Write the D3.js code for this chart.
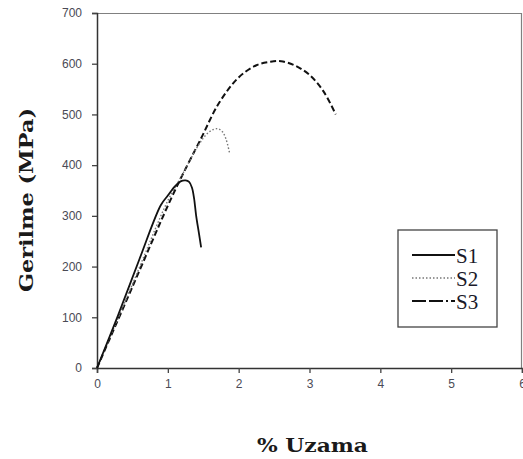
<!DOCTYPE html>
<html>
<head>
<meta charset="utf-8">
<script src="https://cdn.jsdelivr.net/npm/d3@7"></script>
<style>
  body { margin: 0; background: #fff; }
  svg { display: block; }
</style>
</head>
<body>
<div id="chart"></div>
<script>
// strain (%) / stress (MPa)
let s1_x = [0, 0.3, 0.6, 0.9, 1.0, 1.1, 1.18, 1.25, 1.3, 1.34, 1.37, 1.4, 1.44, 1.47];
let s1_y = [0, 105, 215, 321, 340, 358, 368, 370, 367, 356, 335, 300, 265, 238];
let s2_x = [0, 0.5, 1.0, 1.2, 1.4, 1.51, 1.6, 1.7, 1.77, 1.82, 1.87];
let s2_y = [0, 165, 330, 380, 432, 455, 467, 472, 466, 452, 425];
let s3_x = [0, 0.5, 1.0, 1.19, 1.47, 1.72, 2.0, 2.25, 2.45, 2.6, 2.8, 3.0, 3.2, 3.37];
let s3_y = [0, 160, 320, 376, 453, 522, 573, 597, 604, 605, 596, 578, 545, 500];
let series_names = ["S1", "S2", "S3"];
let x_ticks = [0, 1, 2, 3, 4, 5, 6];
let y_ticks = [0, 100, 200, 300, 400, 500, 600, 700];

let margin = {top: 13, right: 1, bottom: 91, left: 97};
let width = 523, height = 459;
let w = width - margin.left - margin.right;
let h = height - margin.top - margin.bottom;

let svg = d3.select("#chart").append("svg")
    .attr("width", width)
    .attr("height", height);

let g = svg.append("g").attr("transform", "translate(" + margin.left + "," + margin.top + ")");

let x = d3.scaleLinear().domain([0, 6]).range([0, w]);
let y = d3.scaleLinear().domain([0, 700]).range([h, 0]);

// frame top/right
g.append("path")
    .attr("d", "M0,0.5H" + (w - 0.5) + "V" + h)
    .attr("fill", "none")
    .attr("stroke", "#808080")
    .attr("stroke-width", 1.2);

let xAxis = g.append("g")
    .attr("transform", "translate(0," + h + ")")
    .call(d3.axisBottom(x).tickValues(x_ticks).tickSize(5).tickPadding(6).tickFormat(d3.format("d")));
let yAxis = g.append("g")
    .call(d3.axisLeft(y).tickValues(y_ticks).tickSize(5).tickPadding(10).tickFormat(d3.format("d")));

[xAxis, yAxis].forEach(function(a) {
    a.select(".domain").attr("stroke", "#333").attr("stroke-width", 1.5);
    a.selectAll(".tick line").attr("stroke", "#444").attr("stroke-width", 1.3);
    a.selectAll(".tick text")
        .attr("font-family", "Arial, 'Liberation Sans', sans-serif")
        .attr("font-size", 12)
        .attr("fill", "#4a4a55");
});

let line = d3.line()
    .x(function(d) { return x(d[0]); })
    .y(function(d) { return y(d[1]); })
    .curve(d3.curveCatmullRom.alpha(0.5));

let styles = [
    {dash: null, stroke: "#111", sw: 1.8},
    {dash: "1.5,2", stroke: "#777", sw: 1.4},
    {dash: "6,3", stroke: "#111", sw: 2}
];
let xs = [s1_x, s2_x, s3_x];
let ys = [s1_y, s2_y, s3_y];

[2, 1, 0].forEach(function(i) {
    g.append("path")
        .datum(d3.zip(xs[i], ys[i]))
        .attr("fill", "none")
        .attr("stroke", styles[i].stroke)
        .attr("stroke-width", styles[i].sw)
        .attr("stroke-dasharray", styles[i].dash)
        .attr("d", line);
});

// legend
let legend = svg.append("g").attr("transform", "translate(398,230)");
legend.append("rect")
    .attr("width", 99)
    .attr("height", 97)
    .attr("fill", "#fff")
    .attr("stroke", "#444")
    .attr("stroke-width", 1.3);

let items = legend.selectAll("g.item")
    .data(series_names)
    .enter().append("g")
    .attr("class", "item")
    .attr("transform", function(d, i) { return "translate(0," + [25, 48, 71][i] + ")"; });

items.append("line")
    .attr("x1", 14)
    .attr("x2", 57)
    .attr("stroke", function(d, i) { return styles[i].stroke; })
    .attr("stroke-width", function(d, i) { return styles[i].sw; })
    .attr("stroke-dasharray", function(d, i) { return i === 2 ? "14,3,14,3,2,3" : styles[i].dash; });

items.append("text")
    .attr("x", 58)
    .attr("dy", "0.36em")
    .attr("font-family", "'Liberation Serif', 'DejaVu Serif', serif")
    .attr("font-size", 21)
    .attr("fill", "#1a1a2a")
    .text(function(d) { return d; });

// axis titles
svg.append("text")
    .attr("transform", "translate(33,200) rotate(-90)")
    .attr("text-anchor", "middle")
    .attr("font-family", "'DejaVu Serif', 'Liberation Serif', serif")
    .attr("font-weight", "bold")
    .attr("font-size", 18)
    .attr("textLength", 184)
    .attr("lengthAdjust", "spacingAndGlyphs")
    .attr("fill", "#1a1a1a")
    .text("Gerilme (MPa)");

svg.append("text")
    .attr("x", 312.5)
    .attr("y", 452)
    .attr("text-anchor", "middle")
    .attr("font-family", "'DejaVu Serif', 'Liberation Serif', serif")
    .attr("font-weight", "bold")
    .attr("font-size", 18)
    .attr("textLength", 111)
    .attr("lengthAdjust", "spacingAndGlyphs")
    .attr("fill", "#1a1a1a")
    .text("% Uzama");
</script>
</body>
</html>
